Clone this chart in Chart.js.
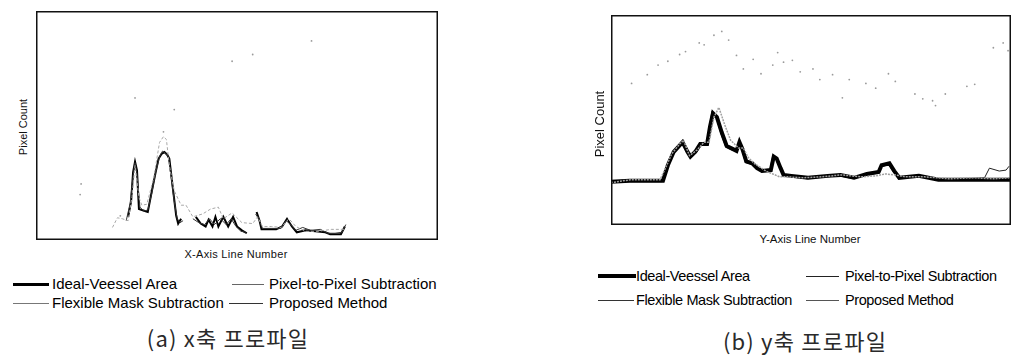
<!DOCTYPE html>
<html>
<head>
<meta charset="utf-8">
<script src="https://cdn.jsdelivr.net/npm/chart.js@4/dist/chart.umd.min.js"></script>
<style>
  html, body { margin:0; padding:0; background:#fff; width:1016px; height:355px; overflow:hidden; }
  .abs { position:absolute; white-space:nowrap; }
  .ax { font-family:"Liberation Sans", Arial, sans-serif; color:#111; }
  .lg { font-family:"Liberation Sans", Arial, sans-serif; color:#000; line-height:18px; }
  .cap { font-family:"Noto Sans CJK KR", sans-serif; color:#2a2a2a; font-size:22px; line-height:26px; letter-spacing:1.2px; }
  .ln { position:absolute; }
</style>
</head>
<body>
<script>
// ---------- (a) X-axis profile ----------
const leftIdealX = [94,97,99,101,103,105,108,111,114,118,122,125,128,131,134,136,140,143,145,148,155,163,168,173,176,180,183,186,191,196,201,205,210,215,220,225,228,230,235,245,251,256,261,266,275,285,295,300,305,311,315];
const leftIdealY = [24,40,70,81,72,32,31,30,29,50,70,84,89,91,88,84,50,25,17,22,null,24,17,14,21,14,24,14,24,14,24,14,10,7,null,29,20,11,11,11,14,22,14,8,10,9,8,6,6,6,14];
const leftPropX = [92,96,99,101,103,106,110,114,118,122,126,129,132,135,138,141,144,147,150,156,160,166,172,177,182,188,194,199,204,209,214,219,224,227,231,240,250,255,260,265,272,280,290,298,305,312,316];
const leftPropY = [20,38,66,80,68,34,30,31,48,70,86,92,90,86,64,40,22,18,20,null,22,18,16,22,16,22,16,22,14,9,8,null,27,22,12,12,12,20,16,10,13,10,11,7,7,8,16];
const leftFlexX = [78,83,88,94,98,101,105,108,113,120,126,130,133,136,141,148,153,160,170,178,186,191,200,210,221,226,231,240,250,258,265,275,288,301,315];
const leftFlexY = [13,23,22,20,45,77,44,36,37,64,101,107,104,77,51,36,36,24,27,32,34,22,28,18,17,24,14,14,13,22,14,9,9,11,11];
const leftPixX = [45,46,101,141,200,221,281,130,86];
const leftPixY = [47,58,147,135,185,192,206,112,25];

// ---------- (b) Y-axis profile ----------
const rightIdealX = [0,19,53,58,64,73,78,81,86,91,98,101,104,108,113,118,124,128,131,134,138,144,149,154,163,166,169,173,176,184,201,221,234,248,261,273,276,284,289,294,314,334,368,384,408];
const rightIdealY = [45,46,46,62,76,86,76,71,76,84,84,102,116,112,96,82,79,77,86,79,66,64,59,56,57,71,69,59,52,51,49,51,52,49,53,55,62,64,56,49,51,47,47,47,47];
const rightPropX = [0,18,52,57,63,72,77,82,87,92,97,100,103,107,112,117,123,127,130,133,137,143,148,153,162,165,168,172,175,183,200,220,233,247,260,272,275,283,288,293,313,333,360,381,386,396,403,406];
const rightPropY = [44,45,45,60,75,87,77,72,75,83,83,100,118,113,95,81,78,78,85,80,65,63,60,55,57,72,70,60,53,50,48,50,51,48,52,54,60,63,55,49,50,48,48,49,59,56,57,61];
const rightFlexX = [0,20,50,56,62,70,74,80,88,95,100,105,110,116,122,130,135,140,146,152,158,165,172,180,195,215,235,255,270,280,290,300,320,345,370,390,408];
const rightFlexY = [44,47,47,60,74,84,88,72,78,86,86,112,122,104,88,80,80,70,64,60,56,53,50,50,49,50,52,50,51,53,52,50,50,48,49,48,49];
const rightPixX = [21,37,48,58,70,76,90,95,105,113,120,128,135,145,153,165,170,176,185,193,206,213,226,236,243,260,270,283,290,310,318,328,331,341,363,371,390,400,405];
const rightPixY = [147,156,166,170,177,180,189,187,197,201,192,176,162,172,157,166,179,169,171,159,162,151,156,132,151,147,142,157,149,136,131,129,124,136,144,146,184,189,181];

const seriesNames = ["Ideal-Veessel Area","Pixel-to-Pixel Subtraction","Flexible Mask Subtraction","Proposed Method"];
const captions = ["(a) x축 프로파일","(b) y축 프로파일"];
const axisTitles = ["X-Axis Line Number","Y-Axis Line Number","Pixel Count"];

function pts(xs, ys){ return xs.map((x,i)=>({x:x, y:ys[i]})); }

const framePlugin = {
  id:'frame',
  afterDraw(chart){
    const a = chart.chartArea, c = chart.ctx;
    c.save(); c.strokeStyle='#111'; c.lineWidth=1.5;
    c.strokeRect(a.left+0.75, a.top+0.75, a.right-a.left-1.5, a.bottom-a.top-1.5);
    c.restore();
  }
};

function el(tag, cls, style, text){
  const e=document.createElement(tag); if(cls) e.className=cls;
  Object.assign(e.style, style); if(text!==undefined) e.textContent=text;
  document.body.appendChild(e); return e;
}

function makeChart(left, top, w, h, xmax, ymax, ds){
  const wrap = el('div','abs',{left:left+'px',top:top+'px',width:w+'px',height:h+'px'});
  const cv = document.createElement('canvas'); cv.width=w; cv.height=h;
  cv.style.width=w+'px'; cv.style.height=h+'px';
  wrap.appendChild(cv);
  new Chart(cv, {
    type:'line',
    data:{ datasets: ds },
    options:{
      responsive:false, animation:false, devicePixelRatio:1,
      layout:{ padding:0 },
      plugins:{ legend:{display:false}, tooltip:{enabled:false} },
      elements:{ point:{ radius:0 }, line:{ tension:0 } },
      scales:{
        x:{ type:'linear', display:false, min:0, max:xmax },
        y:{ display:false, min:0, max:ymax }
      }
    },
    plugins:[framePlugin]
  });
}

// Left chart
makeChart(32, 7, 410, 237, 410, 237, [
  { label:seriesNames[1], data:pts(leftPixX,leftPixY), showLine:false, pointRadius:0.9, pointBackgroundColor:'#9a9a9a', pointBorderWidth:0 },
  { label:seriesNames[2], data:pts(leftFlexX,leftFlexY), borderColor:'#a8a8a8', borderWidth:1, borderDash:[3,2], spanGaps:false },
  { label:seriesNames[3], data:pts(leftPropX,leftPropY), borderColor:'#333', borderWidth:1, spanGaps:false },
  { label:seriesNames[0], data:pts(leftIdealX,leftIdealY), borderColor:'#000', borderWidth:2, spanGaps:false }
]);

// Right chart
makeChart(607, 11, 408, 218, 408, 218, [
  { label:seriesNames[1], data:pts(rightPixX,rightPixY), showLine:false, pointRadius:0.9, pointBackgroundColor:'#9a9a9a', pointBorderWidth:0 },
  { label:seriesNames[2], data:pts(rightFlexX,rightFlexY), borderColor:'#a0a0a0', borderWidth:1.5, borderDash:[2,1] },
  { label:seriesNames[0], data:pts(rightIdealX,rightIdealY), borderColor:'#000', borderWidth:4 },
  { label:seriesNames[3], data:pts(rightPropX,rightPropY), borderColor:'#222', borderWidth:1 }
]);

// Axis titles
el('div','abs ax',{left:'136px',top:'247px',width:'200px',textAlign:'center',fontSize:'11px',lineHeight:'14px',letterSpacing:'0.3px'},axisTitles[0]);
el('div','abs ax',{left:'-77px',top:'120px',width:'200px',textAlign:'center',fontSize:'11px',lineHeight:'14px',transform:'rotate(-90deg)'},axisTitles[2]);
el('div','abs ax',{left:'710px',top:'231px',width:'200px',textAlign:'center',fontSize:'11.5px',lineHeight:'16px'},axisTitles[1]);
el('div','abs ax',{left:'500px',top:'116px',width:'200px',textAlign:'center',fontSize:'13px',lineHeight:'16px',transform:'rotate(-90deg)'},axisTitles[2]);

// Left legend
el('div','ln',{left:'13px',top:'283px',width:'36px',height:'2.5px',background:'#000'});
el('div','abs lg',{left:'52px',top:'275px',fontSize:'15px'},seriesNames[0]);
el('div','ln',{left:'232px',top:'284px',width:'32px',height:'1px',background:'#666'});
el('div','abs lg',{left:'269px',top:'275px',fontSize:'15px'},seriesNames[1]);
el('div','ln',{left:'13px',top:'303px',width:'36px',height:'1px',background:'#777'});
el('div','abs lg',{left:'52px',top:'294px',fontSize:'15px'},seriesNames[2]);
el('div','ln',{left:'229px',top:'303px',width:'34px',height:'1px',background:'#333'});
el('div','abs lg',{left:'269px',top:'294px',fontSize:'15px'},seriesNames[3]);

// Right legend
el('div','ln',{left:'598px',top:'274px',width:'38px',height:'4px',background:'#000'});
el('div','abs lg',{left:'636px',top:'267px',fontSize:'14.5px',letterSpacing:'-0.4px'},seriesNames[0]);
el('div','ln',{left:'806px',top:'276px',width:'33px',height:'1px',background:'#222'});
el('div','abs lg',{left:'845px',top:'267px',fontSize:'14.5px',letterSpacing:'-0.4px'},seriesNames[1]);
el('div','ln',{left:'598px',top:'300px',width:'36px',height:'1px',background:'#333'});
el('div','abs lg',{left:'636px',top:'291px',fontSize:'14.5px',letterSpacing:'-0.4px'},seriesNames[2]);
el('div','ln',{left:'806px',top:'300px',width:'33px',height:'1px',background:'#555'});
el('div','abs lg',{left:'845px',top:'291px',fontSize:'14.5px',letterSpacing:'-0.4px'},seriesNames[3]);

// Captions
el('div','abs cap',{left:'128px',top:'324px',width:'200px',textAlign:'center'},captions[0]);
el('div','abs cap',{left:'705px',top:'327px',width:'200px',textAlign:'center'},captions[1]);
</script>
</body>
</html>
